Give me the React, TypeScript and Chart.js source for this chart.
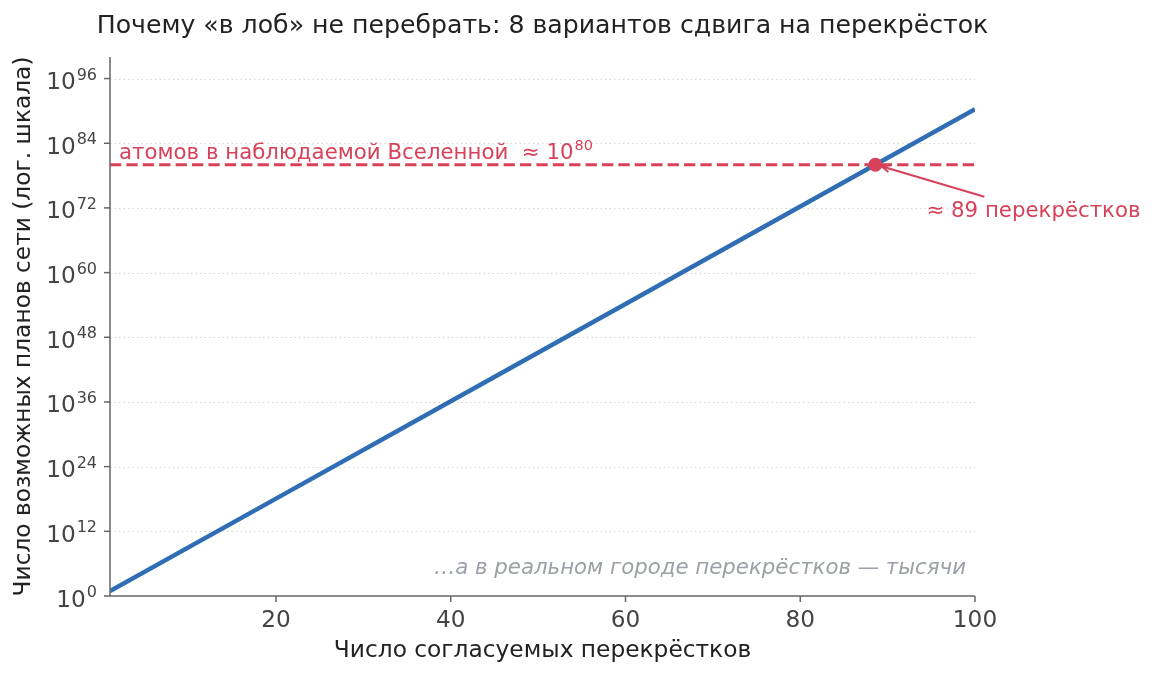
import React, { useEffect, useRef } from 'react';
import { Chart, registerables } from 'chart.js';

Chart.register(...registerables);

// число перекрёстков и число планов (8 вариантов на каждый)
const crossings = [1, 20, 40, 60, 80, 100];
const plans = [8, 1.15e18, 1.33e36, 1.53e54, 1.77e72, 2.04e90];
const atomsLimit = 1e80;
const limitSpan = [1, 100];
const crossAt = 88.6;
const yTickPowers = [0, 12, 24, 36, 48, 60, 72, 84, 96];
const xTicks = [20, 40, 60, 80, 100];

const FONT = '"DejaVu Sans", sans-serif';
const BLUE = '#2f6eb4';
const RED = '#d7425a';

const overlay = {
  id: 'overlay',
  beforeDatasetsDraw(chart: any) {
    const { ctx, chartArea: a, scales } = chart;
    const y = scales.y;
    ctx.save();
    ctx.strokeStyle = '#d6d6d6';
    ctx.lineWidth = 1;
    ctx.setLineDash([1.5, 3]);
    yTickPowers.forEach((p) => {
      if (p === 0) return;
      const py = Math.round(y.getPixelForValue(Math.pow(10, p))) + 0.5;
      ctx.beginPath();
      ctx.moveTo(a.left, py);
      ctx.lineTo(a.right, py);
      ctx.stroke();
    });
    ctx.restore();
  },
  afterDraw(chart: any) {
    const { ctx, chartArea: a, scales } = chart;
    const x = scales.x;
    const y = scales.y;
    ctx.save();

    // оси
    ctx.strokeStyle = '#666';
    ctx.lineWidth = 1.5;
    ctx.beginPath();
    ctx.moveTo(a.left, a.top);
    ctx.lineTo(a.left, a.bottom);
    ctx.lineTo(a.right, a.bottom);
    ctx.stroke();

    ctx.fillStyle = '#444';
    ctx.font = `23.2px ${FONT}`;
    ctx.textAlign = 'center';
    ctx.textBaseline = 'middle';
    xTicks.forEach((v) => {
      const px = x.getPixelForValue(v);
      ctx.beginPath();
      ctx.moveTo(px, a.bottom);
      ctx.lineTo(px, a.bottom + 6);
      ctx.stroke();
      ctx.fillText(String(v), px, a.bottom + 25);
    });

    yTickPowers.forEach((p) => {
      const py = y.getPixelForValue(Math.pow(10, p));
      ctx.beginPath();
      ctx.moveTo(a.left - 6, py);
      ctx.lineTo(a.left, py);
      ctx.stroke();
      const right = a.left - 13;
      ctx.textAlign = 'right';
      ctx.textBaseline = 'alphabetic';
      ctx.font = `16px ${FONT}`;
      const sup = String(p);
      const sw = ctx.measureText(sup).width;
      ctx.fillText(sup, right, py + 1);
      ctx.font = `23.2px ${FONT}`;
      ctx.fillText('10', right - sw - 1, py + 10.5);
    });

    // заголовки
    ctx.fillStyle = '#222';
    ctx.textAlign = 'center';
    ctx.textBaseline = 'middle';
    ctx.font = `25.2px ${FONT}`;
    ctx.fillText('Почему «в лоб» не перебрать: 8 вариантов сдвига на перекрёсток', (a.left + a.right) / 2, 26);
    ctx.font = `23.3px ${FONT}`;
    ctx.fillText('Число согласуемых перекрёстков', (a.left + a.right) / 2, 651);
    ctx.save();
    ctx.translate(24, (a.top + a.bottom) / 2);
    ctx.rotate(-Math.PI / 2);
    ctx.fillText('Число возможных планов сети (лог. шкала)', 0, 0);
    ctx.restore();

    // подписи
    const px = x.getPixelForValue(crossAt);
    const py = y.getPixelForValue(atomsLimit);
    ctx.fillStyle = RED;
    ctx.textAlign = 'left';
    ctx.textBaseline = 'alphabetic';
    ctx.font = `21.3px ${FONT}`;
    const lbl = 'атомов в наблюдаемой Вселенной  ≈ 10';
    ctx.fillText(lbl, a.left + 9, py - 6);
    const lw = ctx.measureText(lbl).width;
    ctx.font = `14.5px ${FONT}`;
    ctx.fillText('80', a.left + 9 + lw + 1, py - 15);

    ctx.font = `21.3px ${FONT}`;
    ctx.textBaseline = 'middle';
    ctx.fillText('≈ 89 перекрёстков', px + 51, py + 47);

    // стрелка
    const tx = px + 109;
    const ty = py + 32;
    const hx = px + 6;
    const hy = py + 1.5;
    ctx.strokeStyle = RED;
    ctx.lineWidth = 2;
    ctx.beginPath();
    ctx.moveTo(tx, ty);
    ctx.lineTo(hx, hy);
    ctx.stroke();
    const ang = Math.atan2(ty - hy, tx - hx);
    ctx.beginPath();
    ctx.moveTo(hx + 9 * Math.cos(ang - 0.4), hy + 9 * Math.sin(ang - 0.4));
    ctx.lineTo(hx, hy);
    ctx.lineTo(hx + 9 * Math.cos(ang + 0.4), hy + 9 * Math.sin(ang + 0.4));
    ctx.stroke();

    ctx.fillStyle = '#9ca0a8';
    ctx.textAlign = 'right';
    ctx.font = `italic 21.3px ${FONT}`;
    ctx.fillText('…а в реальном городе перекрёстков — тысячи', a.right - 9, 568);

    ctx.restore();
  },
};

export default function App() {
  const canvasRef = useRef<HTMLCanvasElement>(null);

  useEffect(() => {
    const chart = new Chart(canvasRef.current as HTMLCanvasElement, {
      type: 'line',
      data: {
        datasets: [
          {
            label: 'пересечение',
            data: [{ x: crossAt, y: atomsLimit }],
            showLine: false,
            pointRadius: 7,
            pointBackgroundColor: RED,
            pointBorderColor: RED,
            pointBorderWidth: 0,
          },
          {
            label: 'планы',
            data: crossings.map((c, i) => ({ x: c, y: plans[i] })),
            borderColor: BLUE,
            borderWidth: 4.5,
            pointRadius: 0,
            tension: 0,
          },
          {
            label: 'атомы',
            data: limitSpan.map((c) => ({ x: c, y: atomsLimit })),
            borderColor: RED,
            borderWidth: 3,
            borderDash: [11.3, 5.1],
            pointRadius: 0,
          },
        ],
      },
      options: {
        animation: false,
        responsive: true,
        maintainAspectRatio: false,
        layout: { padding: { left: 110, top: 57, right: 181, bottom: 81 } },
        scales: {
          x: { type: 'linear', min: 1, max: 100, display: false },
          y: { type: 'logarithmic', min: 1, max: 1e100, display: false },
        },
        plugins: {
          legend: { display: false },
          tooltip: { enabled: false },
        },
      },
      plugins: [overlay],
    });

    return () => chart.destroy();
  }, []);

  return (
    <div style={{ position: 'absolute', left: 0, top: 0, width: 1156, height: 677, background: '#fff' }}>
      <canvas ref={canvasRef} />
    </div>
  );
}
